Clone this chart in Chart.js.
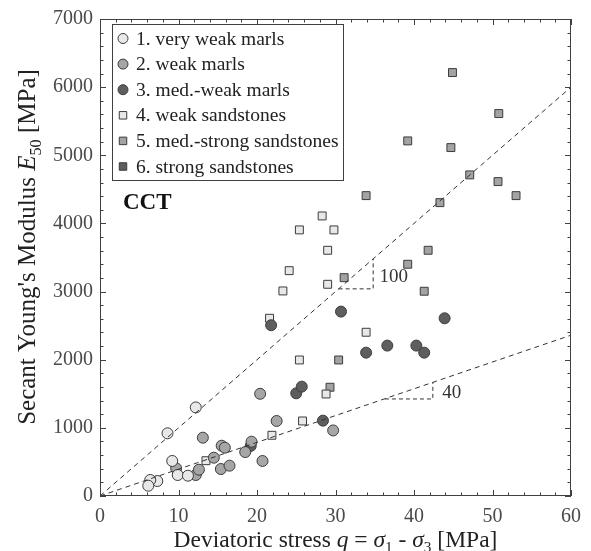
<!DOCTYPE html>
<html>
<head>
<meta charset="utf-8">
<script src="https://cdn.jsdelivr.net/npm/chart.js@4"></script>
<style>
  body { margin: 0; background: #fff; }
  #wrap { width: 591px; height: 551px; }
</style>
</head>
<body>
<div id="wrap"><canvas id="chart"></canvas></div>
<script>
// values (q in MPa, E50 in MPa)
const veryWeakMarlsQ = [12.2, 8.6, 9.2, 9.9, 11.2, 7.3, 6.4, 6.15];
const veryWeakMarlsE = [1300, 920, 514, 308, 298, 220, 235, 151];

const weakMarlsQ = [9.7, 12.2, 12.6, 13.1, 14.5, 15.4, 15.5, 15.9, 16.5, 18.5, 19.3, 20.7, 20.4, 22.5, 29.7];
const weakMarlsE = [406, 308, 386, 856, 562, 396, 738, 709, 445, 645, 797, 514, 1500, 1101, 962];

const medWeakMarlsQ = [19.2, 21.8, 25.0, 25.7, 28.4, 30.7, 33.9, 36.6, 40.3, 41.3, 43.9];
const medWeakMarlsE = [735, 2506, 1507, 1605, 1106, 2706, 2104, 2207, 2207, 2104, 2608];

const weakSandQ = [13.5, 21.9, 25.8, 28.8, 25.4, 21.6, 23.3, 24.1, 29.0, 29.0, 25.4, 29.8, 28.3, 33.9];
const weakSandE = [518, 891, 1101, 1497, 1996, 2608, 3009, 3307, 3107, 3606, 3905, 3905, 4110, 2403];

const medStrongSandQ = [29.3, 30.4, 31.1, 33.9, 39.2, 41.3, 41.8, 43.3, 39.2, 44.7, 44.9, 50.8, 47.1, 50.7, 53.0];
const medStrongSandE = [1596, 1996, 3204, 4408, 3401, 3005, 3606, 4305, 5211, 5113, 6214, 5612, 4712, 4614, 4408];

const strongSandQ = [];
const strongSandE = [];

const trend100Q = [0, 60];
const trend100E = [0, 6000];
const trend40Q = [0, 60];
const trend40E = [0, 2360];

// slope triangles
const tri100Q = [30.4, 34.8, 34.8];
const tri100E = [3040, 3040, 3480];
const tri40Q = [36.3, 42.4, 42.4];
const tri40E = [1424, 1424, 1668];

const xTicks = [0, 10, 20, 30, 40, 50, 60];
const yTicks = [0, 1000, 2000, 3000, 4000, 5000, 6000, 7000];

const groupLabels = ["1. very weak marls", "2. weak marls", "3. med.-weak marls",
  "4. weak sandstones", "5. med.-strong sandstones", "6. strong sandstones"];

const SERIF = "'Liberation Serif', 'Times New Roman', serif";

function pts(qs, es) {
  return qs.map((q, i) => ({ x: q, y: es[i] }));
}

const styles = [
  { shape: "circle", fill: "#e8e8e8" },
  { shape: "circle", fill: "#a6a6a6" },
  { shape: "circle", fill: "#5e5e5e" },
  { shape: "rect", fill: "#e8e8e8" },
  { shape: "rect", fill: "#a3a3a3" },
  { shape: "rect", fill: "#5e5e5e" },
];

const groups = [
  [veryWeakMarlsQ, veryWeakMarlsE],
  [weakMarlsQ, weakMarlsE],
  [medWeakMarlsQ, medWeakMarlsE],
  [weakSandQ, weakSandE],
  [medStrongSandQ, medStrongSandE],
  [strongSandQ, strongSandE],
];

const pointSets = groups.map((g, i) => ({
  type: "scatter",
  label: groupLabels[i],
  data: pts(g[0], g[1]),
  pointStyle: styles[i].shape,
  pointRadius: styles[i].shape === "circle" ? 5.5 : 5.6,
  backgroundColor: styles[i].fill,
  borderColor: "#3c3c3c",
  borderWidth: 1,
  order: 2,
}));

function dashed(qs, es, dash) {
  return {
    type: "line",
    data: pts(qs, es),
    borderColor: "#333",
    borderWidth: 1,
    borderDash: dash,
    pointRadius: 0,
    fill: false,
    order: 1,
  };
}

// draws a line of text made of styled pieces
function richText(ctx, parts, x, y, size, align) {
  let total = 0;
  parts.forEach(p => {
    const s = p.sub ? size * 0.65 : size;
    ctx.font = (p.italic ? "italic " : "") + (p.bold ? "bold " : "") + s + "px " + SERIF;
    p.w = ctx.measureText(p.t).width;
    total += p.w;
  });
  let cx = align === "center" ? x - total / 2 : x;
  parts.forEach(p => {
    const s = p.sub ? size * 0.65 : size;
    ctx.font = (p.italic ? "italic " : "") + (p.bold ? "bold " : "") + s + "px " + SERIF;
    ctx.fillText(p.t, cx, y + (p.sub ? size * 0.22 : 0));
    cx += p.w;
  });
}

function drawMarker(ctx, shape, fill, x, y, r) {
  ctx.beginPath();
  if (shape === "circle") {
    ctx.arc(x, y, r, 0, Math.PI * 2);
  } else {
    const s = r * Math.SQRT1_2;
    ctx.rect(x - s, y - s, 2 * s, 2 * s);
  }
  ctx.fillStyle = fill;
  ctx.fill();
  ctx.strokeStyle = "#3c3c3c";
  ctx.lineWidth = 1;
  ctx.stroke();
}

const decor = {
  id: "decor",
  afterDraw(chart) {
    const ctx = chart.ctx;
    const xs = chart.scales.x, ys = chart.scales.y;
    const a = chart.chartArea;
    ctx.save();

    // frame
    ctx.strokeStyle = "#404040";
    ctx.lineWidth = 1;
    ctx.strokeRect(Math.round(a.left) + 0.5, Math.round(a.top) + 0.5,
      Math.round(a.right - a.left) - 1, Math.round(a.bottom - a.top) - 1);

    // inward ticks on all four sides
    ctx.beginPath();
    for (let v = 0; v <= 60; v += 2) {
      const px = Math.round(xs.getPixelForValue(v)) + 0.5;
      const len = v % 10 === 0 ? 6 : 3.5;
      ctx.moveTo(px, a.bottom); ctx.lineTo(px, a.bottom - len);
      ctx.moveTo(px, a.top); ctx.lineTo(px, a.top + len);
    }
    for (let v = 0; v <= 7000; v += 200) {
      const py = Math.round(ys.getPixelForValue(v)) + 0.5;
      const len = v % 1000 === 0 ? 6 : 3.5;
      ctx.moveTo(a.left, py); ctx.lineTo(a.left + len, py);
      ctx.moveTo(a.right, py); ctx.lineTo(a.right - len, py);
    }
    ctx.stroke();

    // legend box
    const lx = 112, ly = 24, lw = 231, lh = 156;
    ctx.fillStyle = "#fff";
    ctx.fillRect(lx, ly, lw, lh);
    ctx.strokeStyle = "#404040";
    ctx.strokeRect(lx + 0.5, ly + 0.5, lw, lh);
    ctx.textBaseline = "middle";
    ctx.textAlign = "left";
    groupLabels.forEach((lab, i) => {
      const yy = 38.5 + i * 25.6;
      const st = styles[i];
      drawMarker(ctx, st.shape, st.fill, 123, yy, st.shape === "circle" ? 5 : 5.3);
      ctx.fillStyle = "#222";
      ctx.font = "19.5px " + SERIF;
      ctx.fillText(lab, 136, yy + 1);
    });

    // annotations
    ctx.textBaseline = "middle";
    ctx.fillStyle = "#111";
    ctx.font = "bold 23px " + SERIF;
    ctx.fillText("CCT", 123, 203);
    ctx.fillStyle = "#333";
    ctx.font = "19px " + SERIF;
    ctx.fillText("100", xs.getPixelForValue(35.6), ys.getPixelForValue(3215));
    ctx.fillText("40", xs.getPixelForValue(43.6), ys.getPixelForValue(1512));

    // axis titles
    ctx.fillStyle = "#222";
    ctx.textBaseline = "alphabetic";
    richText(ctx, [
      { t: "Deviatoric stress " }, { t: "q", italic: true }, { t: " = " },
      { t: "σ", italic: true }, { t: "1", sub: true }, { t: " - " },
      { t: "σ", italic: true }, { t: "3", sub: true }, { t: " [MPa]" },
    ], (a.left + a.right) / 2, 547, 23.5, "center");

    ctx.translate(35, 247);
    ctx.rotate(-Math.PI / 2);
    richText(ctx, [
      { t: "Secant Young's Modulus " }, { t: "E", italic: true }, { t: "50", sub: true },
      { t: " [MPa]" },
    ], 0, 0, 25, "center");
    ctx.restore();
  },
};

new Chart(document.getElementById("chart"), {
  data: {
    datasets: [
      ...pointSets,
      dashed(trend100Q, trend100E, [5, 4]),
      dashed(trend40Q, trend40E, [5, 4]),
      dashed(tri100Q, tri100E, [4, 3]),
      dashed(tri40Q, tri40E, [4, 3]),
    ],
  },
  options: {
    responsive: true,
    maintainAspectRatio: false,
    animation: false,
    layout: { padding: { top: 19, right: 20, left: 0, bottom: 0 } },
    plugins: { legend: { display: false }, tooltip: { enabled: false } },
    scales: {
      x: {
        type: "linear",
        min: 0,
        max: 60,
        afterBuildTicks: s => { s.ticks = xTicks.map(v => ({ value: v })); },
        afterFit: s => { s.height = 55; },
        grid: { display: false, drawTicks: false },
        border: { display: false },
        ticks: { color: "#4a4a4a", padding: 9, font: { family: SERIF, size: 20 },
          callback: v => String(v) },
      },
      y: {
        type: "linear",
        min: 0,
        max: 7000,
        afterBuildTicks: s => { s.ticks = yTicks.map(v => ({ value: v })); },
        afterFit: s => { s.width = 100; },
        grid: { display: false, drawTicks: false },
        border: { display: false },
        ticks: { color: "#4a4a4a", padding: 7, font: { family: SERIF, size: 20 },
          callback: v => String(v) },
      },
    },
  },
  plugins: [decor],
});
</script>
</body>
</html>
